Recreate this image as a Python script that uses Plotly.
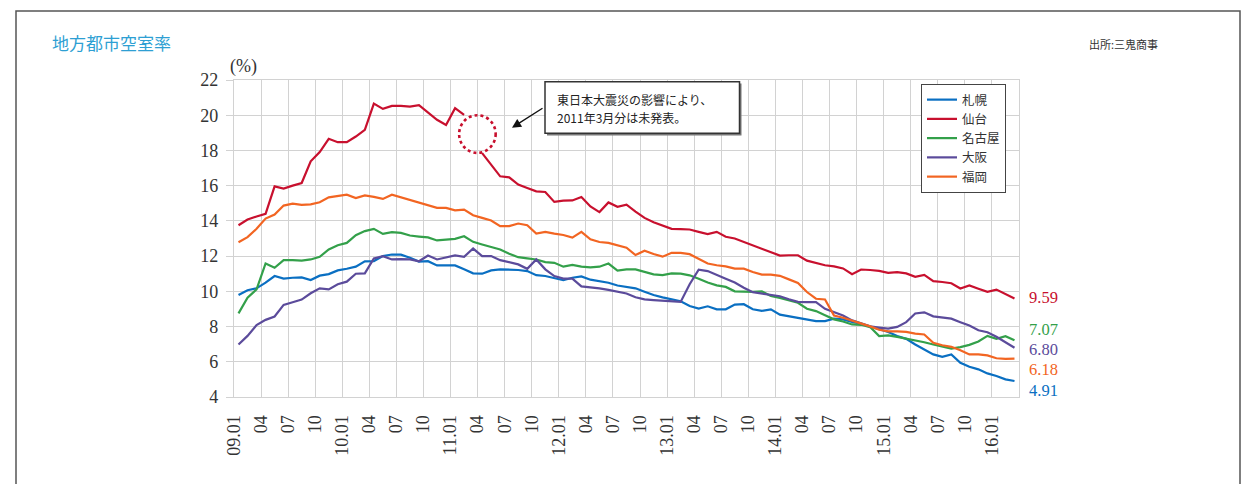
import plotly.graph_objects as go

# ---- data (monthly, 2009.01 - 2016.03) ----
sapporo = [9.79, 10.06, 10.17, 10.49, 10.87, 10.72, 10.77, 10.79, 10.64, 10.89, 10.98, 11.19,
           11.28, 11.40, 11.70, 11.72, 12.00, 12.09, 12.08, 11.91, 11.69, 11.71, 11.47, 11.49,
           11.47, 11.25, 11.02, 11.00, 11.19, 11.25, 11.25, 11.21, 11.15, 10.92, 10.87, 10.77,
           10.63, 10.77, 10.85, 10.66, 10.58, 10.49, 10.33, 10.26, 10.17, 9.98, 9.79, 9.66,
           9.54, 9.44, 9.17, 9.02, 9.15, 8.98, 8.98, 9.25, 9.27, 8.98, 8.89, 8.98,
           8.68, 8.58, 8.50, 8.41, 8.31, 8.31, 8.45, 8.41, 8.26, 8.16, 8.01, 7.88,
           7.69, 7.46, 7.30, 6.98, 6.70, 6.42, 6.28, 6.42, 5.94, 5.72, 5.57, 5.34,
           5.19, 5.00, 4.91]
sendai = [13.75, 14.08, 14.25, 14.40, 15.96, 15.83, 16.00, 16.15, 17.38, 17.91, 18.66, 18.47,
          18.47, 18.79, 19.17, 20.66, 20.36, 20.53, 20.53, 20.49, 20.57, 20.15, 19.74, 19.45,
          20.40, 20.02, None, 17.85, 17.19, 16.53, 16.47, 16.06, 15.87, 15.68, 15.64, 15.08,
          15.15, 15.16, 15.36, 14.82, 14.50, 15.05, 14.80, 14.92, 14.53, 14.17, 13.92, 13.74,
          13.55, 13.53, 13.51, 13.38, 13.25, 13.38, 13.10, 13.00, 12.81, 12.58, 12.39, 12.24,
          12.03, 12.05, 12.05, 11.74, 11.60, 11.48, 11.42, 11.30, 10.97, 11.24, 11.21, 11.16,
          11.05, 11.09, 11.02, 10.82, 10.93, 10.58, 10.53, 10.46, 10.16, 10.33, 10.15, 9.97,
          10.10, 9.86, 9.59]
nagoya = [8.75, 9.64, 10.11, 11.58, 11.34, 11.77, 11.77, 11.74, 11.81, 11.96, 12.38, 12.62,
          12.75, 13.19, 13.42, 13.55, 13.26, 13.36, 13.32, 13.17, 13.11, 13.06, 12.89, 12.94,
          12.98, 13.13, 12.81, 12.66, 12.51, 12.38, 12.13, 11.94, 11.87, 11.81, 11.66, 11.62,
          11.40, 11.50, 11.40, 11.36, 11.40, 11.58, 11.18, 11.25, 11.25, 11.11, 10.96, 10.92,
          11.02, 11.01, 10.91, 10.72, 10.50, 10.34, 10.25, 10.00, 9.97, 9.97, 10.00, 9.74,
          9.63, 9.49, 9.35, 9.01, 8.88, 8.64, 8.41, 8.29, 8.12, 8.10, 7.97, 7.46,
          7.50, 7.41, 7.32, 7.23, 7.11, 6.98, 6.85, 6.75, 6.83, 6.96, 7.15, 7.47,
          7.30, 7.45, 7.22]
osaka = [6.98, 7.47, 8.08, 8.38, 8.57, 9.23, 9.38, 9.53, 9.89, 10.17, 10.11, 10.40,
         10.55, 11.00, 11.02, 11.87, 12.00, 11.81, 11.83, 11.81, 11.71, 12.03, 11.81, 11.91,
         12.04, 11.96, 12.43, 12.00, 12.00, 11.77, 11.66, 11.53, 11.28, 11.81, 11.25, 10.87,
         10.72, 10.72, 10.28, 10.24, 10.17, 10.08, 10.00, 9.88, 9.66, 9.54, 9.50, 9.47,
         9.41, 9.40, 10.40, 11.23, 11.15, 10.95, 10.72, 10.50, 10.20, 9.95, 9.86, 9.79,
         9.72, 9.55, 9.40, 9.39, 9.39, 9.01, 8.82, 8.63, 8.35, 8.20, 8.01, 7.94,
         7.88, 7.98, 8.25, 8.74, 8.81, 8.58, 8.53, 8.45, 8.25, 8.06, 7.79, 7.68,
         7.42, 7.11, 6.80]
fukuoka = [12.79, 13.08, 13.55, 14.13, 14.36, 14.87, 14.98, 14.91, 14.94, 15.06, 15.34, 15.43,
           15.49, 15.30, 15.45, 15.36, 15.25, 15.49, 15.34, 15.21, 15.04, 14.92, 14.74, 14.74,
           14.60, 14.64, 14.32, 14.17, 14.02, 13.70, 13.70, 13.85, 13.75, 13.28, 13.38, 13.28,
           13.20, 13.05, 13.38, 12.95, 12.80, 12.75, 12.62, 12.48, 12.06, 12.31, 12.12, 11.97,
           12.19, 12.18, 12.11, 11.86, 11.58, 11.48, 11.42, 11.29, 11.29, 11.10, 10.95, 10.95,
           10.88, 10.68, 10.48, 9.96, 9.58, 9.54, 8.63, 8.50, 8.35, 8.20, 8.01, 7.82,
           7.73, 7.73, 7.70, 7.60, 7.55, 7.08, 6.94, 6.85, 6.66, 6.42, 6.42, 6.36,
           6.20, 6.16, 6.18]

series_names = ["札幌", "仙台", "名古屋", "大阪", "福岡"]
series_values = [sapporo, sendai, nagoya, osaka, fukuoka]
series_colors = ["#0a6fc2", "#c8102e", "#33a04a", "#5b4b9b", "#f26522"]
end_labels = ["4.91", "9.59", "7.07", "6.80", "6.18"]
note_lines = ["東日本大震災の影響により、", "2011年3月分は未発表。"]

tick_labels = ["09.01", "04", "07", "10",
               "10.01", "04", "07", "10",
               "11.01", "04", "07", "10",
               "12.01", "04", "07", "10",
               "13.01", "04", "07", "10",
               "14.01", "04", "07", "10",
               "15.01", "04", "07", "10",
               "16.01"]
y_ticks = [4, 6, 8, 10, 12, 14, 16, 18, 20, 22]

n_months = len(sapporo)
months = list(range(n_months))
tick_pos = [3 * k - 0.5 for k in range(len(tick_labels))]

GRID = "#d2d2d2"
SERIF = "Liberation Serif"
CJK = "Noto Sans CJK JP"

fig = go.Figure()
for name, vals, col in zip(series_names, series_values, series_colors):
    fig.add_trace(go.Scatter(x=months, y=vals, mode="lines", name=name,
                             line=dict(color=col, width=2.2),
                             connectgaps=False))

L, R, T, B = 234, 231, 80, 87
W, H = 1250, 484
pw, ph = W - L - R, H - T - B


def px(x):
    return (x - L) / pw


def py(y):
    return (H - B - y) / ph


fig.update_layout(
    width=W, height=H,
    margin=dict(l=L, r=R, t=T, b=B),
    paper_bgcolor="white", plot_bgcolor="white",
    showlegend=True,
    legend=dict(x=px(921), y=py(84), xanchor="left", yanchor="top",
                bgcolor="white", bordercolor="#444", borderwidth=1,
                font=dict(family=CJK, size=12.5, color="#333"),
                itemwidth=30, tracegroupgap=0),
    xaxis=dict(range=[-0.5, n_months - 0.5], tickmode="array",
               tickvals=tick_pos, ticktext=tick_labels, tickangle=-90,
               showgrid=True, gridcolor=GRID, gridwidth=1.3,
               showline=True, mirror=True, linecolor=GRID, linewidth=1.3,
               ticks="", zeroline=False, ticklabelstandoff=10,
               tickfont=dict(family=SERIF, size=18, color="#333")),
    yaxis=dict(range=[4, 22], tickmode="array", tickvals=y_ticks,
               showgrid=True, gridcolor=GRID, gridwidth=1.3,
               showline=True, mirror=True, linecolor=GRID, linewidth=1.3,
               ticks="outside", ticklen=7, tickcolor=GRID, tickwidth=1.3,
               zeroline=False, ticklabelstandoff=4,
               tickfont=dict(family=SERIF, size=18, color="#333")),
)

shapes = [
    # outer frame
    dict(type="rect", xref="paper", yref="paper", x0=px(16), x1=px(1240),
         y0=py(500), y1=py(11), line=dict(color="#555", width=1.5), layer="below"),
    # note box (shadow + box)
    dict(type="rect", xref="paper", yref="paper", x0=px(547), x1=px(741.5),
         y0=py(135.5), y1=py(83.5), line=dict(width=0), fillcolor="#777"),
    dict(type="rect", xref="paper", yref="paper", x0=px(545), x1=px(739.5),
         y0=py(133.3), y1=py(81.7), line=dict(color="#333", width=1.5),
         fillcolor="white"),
    # dotted circle marking the missing month
    dict(type="circle", xref="x", yref="y", x0=24.45, x1=28.5, y0=17.86, y1=20.0,
         line=dict(color="#c8102e", width=2.6, dash="dot")),
]
fig.update_layout(shapes=shapes)

ann = [
    dict(text="地方都市空室率", x=px(50), y=py(42), xanchor="left", yanchor="middle",
         font=dict(family=CJK, size=17, color="#2e9fd3")),
    dict(text="出所:三鬼商事", x=px(1087), y=py(43.5), xanchor="left", yanchor="middle",
         font=dict(family=CJK, size=11, color="#333")),
    dict(text="(%)", x=px(243), y=py(66), xanchor="center", yanchor="middle",
         font=dict(family=SERIF, size=18, color="#333")),
    # arrow from the note box toward the missing month
    dict(text="", x=px(512), y=py(127.7), ax=32, ay=-20.4, showarrow=True,
         arrowhead=2, arrowsize=1.3, arrowwidth=1.4, arrowcolor="#111", standoff=0),
]
for line_txt, yy in zip(note_lines, [99.5, 117.5]):
    ann.append(dict(text=line_txt, x=px(556), y=py(yy), xanchor="left",
                    yanchor="middle", borderpad=0,
                    font=dict(family=CJK, size=12, color="#222")))
label_y = [390, 297, 329, 349, 369]
for lab, yy, col in zip(end_labels, label_y, series_colors):
    ann.append(dict(text=lab, x=px(1028), y=py(yy), xanchor="left", yanchor="middle",
                    borderpad=0,
                    font=dict(family=SERIF, size=16.5, color=col)))
for a in ann:
    a.setdefault("xref", "paper")
    a.setdefault("yref", "paper")
    a.setdefault("showarrow", False)
fig.update_layout(annotations=ann)

fig.write_html("out.html")
